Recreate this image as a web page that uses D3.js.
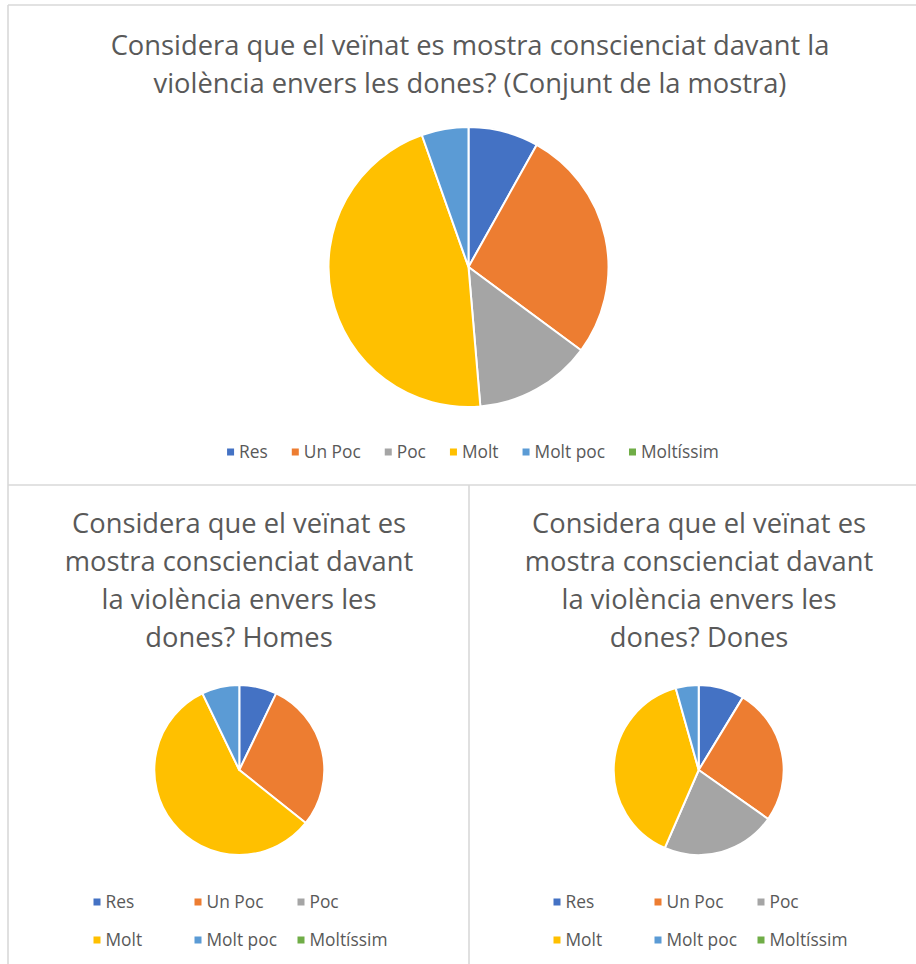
<!DOCTYPE html>
<html><head><meta charset="utf-8">
<script src="https://cdn.jsdelivr.net/npm/d3@7"></script>
<style>body{margin:0;background:#fff}svg{display:block}</style>
</head><body>
<svg id="c" width="916" height="964"></svg>
<script>
const categories = ["Res","Un Poc","Poc","Molt","Molt poc","Moltíssim"];
const colors = ["#4472C4","#ED7D31","#A5A5A5","#FFC000","#5B9BD5","#70AD47"];
const totalValues = [3,10,5,17,2,0];
const homesValues = [1,4,0,8,1,0];
const donesValues = [2,6,5,9,1,0];
const titleTotal = ["Considera que el veïnat es mostra conscienciat davant la","violència envers les dones? (Conjunt de la mostra)"];
const titleHomes = ["Considera que el veïnat es","mostra conscienciat davant","la violència envers les","dones? Homes"];
const titleDones = ["Considera que el veïnat es","mostra conscienciat davant","la violència envers les","dones? Dones"];

const FONT = "'Open Sans', 'Noto Sans', sans-serif";
const TXT = "#595959";
const svg = d3.select("#c");

// measure helper
function measure(str, size){
  const t = svg.append("text").attr("font-family",FONT).attr("font-size",size).text(str);
  const w = t.node().getComputedTextLength(); t.remove(); return w;
}
const titleSize = 100 * 719 / measure(titleTotal[0],100);
const legendSize = 100 * 78 / measure("Moltíssim",100);

// borders
const g0 = svg.append("g").attr("stroke","#D9D9D9").attr("stroke-width",1.6).attr("fill","none");
g0.append("line").attr("x1",8).attr("y1",5).attr("x2",916).attr("y2",5);
g0.append("line").attr("x1",8).attr("y1",5).attr("x2",8).attr("y2",964);
g0.append("line").attr("x1",8).attr("y1",485).attr("x2",916).attr("y2",485);
g0.append("line").attr("x1",469).attr("y1",485).attr("x2",469).attr("y2",964);

function drawTitle(lines, cx, y0, dy){
  svg.append("g").selectAll("text").data(lines).join("text")
    .attr("x",cx).attr("y",(d,i)=>y0+i*dy)
    .attr("text-anchor","middle").attr("font-family",FONT)
    .attr("font-size",titleSize).attr("fill",TXT).text(d=>d);
}
function drawPie(values, cx, cy, r){
  const pie = d3.pie().sort(null).value(d=>d)(values);
  const arc = d3.arc().innerRadius(0).outerRadius(r);
  svg.append("g").attr("transform",`translate(${cx},${cy})`)
    .selectAll("path").data(pie.filter(d=>d.value>0)).join("path")
    .attr("d",arc).attr("fill",d=>colors[d.index])
    .attr("stroke","#fff").attr("stroke-width",2).attr("stroke-linejoin","round");
}

// Top chart
drawTitle(titleTotal, 470, 55, 38);
drawPie(totalValues, 468.5, 267, 140);
{
  const gap = 5, ms = 7, itemGap = 24;
  const widths = categories.map(c=>measure(c, legendSize));
  const total = d3.sum(widths) + categories.length*(ms+gap) + (categories.length-1)*itemGap;
  let x = 473 - total/2;
  const lg = svg.append("g");
  categories.forEach((c,i)=>{
    lg.append("rect").attr("x",x).attr("y",452-ms/2).attr("width",ms).attr("height",ms).attr("fill",colors[i]);
    lg.append("text").attr("x",x+ms+gap).attr("y",452).attr("dy","0.35em")
      .attr("font-family",FONT).attr("font-size",legendSize).attr("fill",TXT).text(c);
    x += ms+gap+widths[i]+itemGap;
  });
}

// Bottom charts
function bottomLegend(cx){
  const cols = [-142,-41,62], rows = [902,940], ms = 7;
  const lg = svg.append("g");
  categories.forEach((c,i)=>{
    const x = cx + cols[i%3], y = rows[Math.floor(i/3)];
    lg.append("rect").attr("x",x-ms/2).attr("y",y-ms/2).attr("width",ms).attr("height",ms).attr("fill",colors[i]);
    lg.append("text").attr("x",x+ms/2+5).attr("y",y).attr("dy","0.35em")
      .attr("font-family",FONT).attr("font-size",legendSize).attr("fill",TXT).text(c);
  });
}
drawTitle(titleHomes, 239, 533, 38);
drawPie(homesValues, 239.3, 770, 85);
bottomLegend(239);

drawTitle(titleDones, 699, 533, 38);
drawPie(donesValues, 698.7, 770, 85);
bottomLegend(699);
</script>
</body></html>
